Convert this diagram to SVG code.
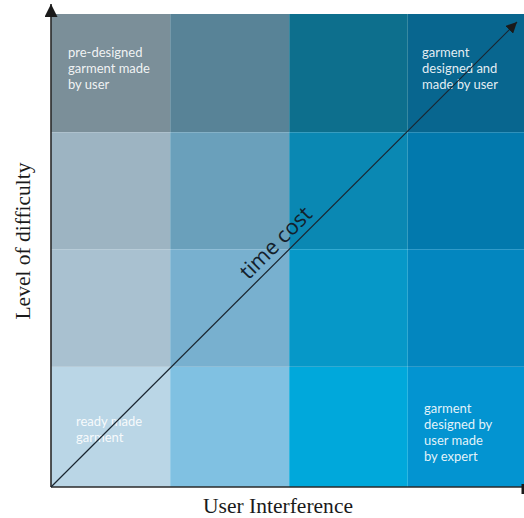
<svg xmlns="http://www.w3.org/2000/svg" width="524" height="518" viewBox="0 0 524 518">
<style>
.cell{stroke:none}
.sep{stroke:#ffffff;stroke-opacity:0.18;stroke-width:1}
.lbl{font-family:Lato,"Open Sans",sans-serif;font-size:13px;fill:#ffffff;fill-opacity:0.9}
.axis{font-family:"Liberation Serif","Times New Roman",serif;font-size:20px;fill:#1a1a1a}
.tc{font-family:"Open Sans","Noto Sans",sans-serif;font-size:21.5px;fill:#13202b}
</style>
<defs>
<marker id="ah" viewBox="0 0 10 10" refX="10" refY="5" markerWidth="11" markerHeight="11" markerUnits="userSpaceOnUse" orient="auto">
<path d="M0,0 L10,5 L0,10 z" fill="#1a1a1a"/>
</marker>
<marker id="ah2" viewBox="0 0 10 10" refX="10" refY="5" markerWidth="13" markerHeight="13" markerUnits="userSpaceOnUse" orient="auto">
<path d="M0,0 L10,5 L0,10 z" fill="#1a1a1a"/>
</marker>
</defs>
<g id="grid">
<rect class="cell" x="51" y="14" width="119" height="118" fill="#7b8f99"/>
<rect class="cell" x="170" y="14" width="119" height="118" fill="#588397"/>
<rect class="cell" x="289" y="14" width="119" height="118" fill="#0d6f8d"/>
<rect class="cell" x="408" y="14" width="116" height="118" fill="#08668f"/>
<rect class="cell" x="51" y="132" width="119" height="117" fill="#9db4c2"/>
<rect class="cell" x="170" y="132" width="119" height="117" fill="#6aa0bb"/>
<rect class="cell" x="289" y="132" width="119" height="117" fill="#0a88b3"/>
<rect class="cell" x="408" y="132" width="116" height="117" fill="#0279ad"/>
<rect class="cell" x="51" y="249" width="119" height="118" fill="#a9c1d0"/>
<rect class="cell" x="170" y="249" width="119" height="118" fill="#78b0cf"/>
<rect class="cell" x="289" y="249" width="119" height="118" fill="#0698c8"/>
<rect class="cell" x="408" y="249" width="116" height="118" fill="#0386bf"/>
<rect class="cell" x="51" y="367" width="119" height="120" fill="#bad6e6"/>
<rect class="cell" x="170" y="367" width="119" height="120" fill="#80c1e2"/>
<rect class="cell" x="289" y="367" width="119" height="120" fill="#00a8db"/>
<rect class="cell" x="408" y="367" width="116" height="120" fill="#0394d1"/>
<line class="sep" x1="170.5" y1="14" x2="170.5" y2="487"/>
<line class="sep" x1="289.5" y1="14" x2="289.5" y2="487"/>
<line class="sep" x1="407.5" y1="14" x2="407.5" y2="487"/>
<line class="sep" x1="51" y1="132.5" x2="524" y2="132.5"/>
<line class="sep" x1="51" y1="249.5" x2="524" y2="249.5"/>
<line class="sep" x1="51" y1="366.5" x2="524" y2="366.5"/>
</g>
<g id="n-predesigned">
<text class="lbl" x="68" y="57">pre-designed</text>
<text class="lbl" x="68" y="73">garment made</text>
<text class="lbl" x="68" y="89">by user</text>
</g>
<g id="n-designed-made">
<text class="lbl" x="422" y="57">garment</text>
<text class="lbl" x="422" y="73">designed and</text>
<text class="lbl" x="422" y="89">made by user</text>
</g>
<g id="n-ready">
<text class="lbl" x="76" y="426">ready made</text>
<text class="lbl" x="76" y="442">garment</text>
</g>
<g id="n-expert">
<text class="lbl" x="424" y="413">garment</text>
<text class="lbl" x="424" y="429">designed by</text>
<text class="lbl" x="424" y="445">user made</text>
<text class="lbl" x="424" y="461">by expert</text>
</g>
<g id="connectors">
<line x1="51" y1="487" x2="51" y2="4" stroke="#2a2a2a" stroke-width="1.6" marker-end="url(#ah2)"/>
<line x1="51" y1="487" x2="524" y2="487" stroke="#2a2a2a" stroke-width="1.6"/>
<rect x="521.5" y="484" width="2.5" height="10" fill="#1a1a1a"/>
<line x1="51" y1="487" x2="517" y2="22" stroke="#1a2631" stroke-width="1.2" marker-end="url(#ah)"/>
<text class="tc" text-anchor="middle" transform="translate(281,248) rotate(-45)">time cost</text>
</g>
<g id="axis-labels">
<text class="axis" text-anchor="middle" textLength="157" lengthAdjust="spacingAndGlyphs" transform="translate(30,241) rotate(-90)">Level of difficulty</text>
<text class="axis" x="278" y="513" text-anchor="middle" textLength="150" lengthAdjust="spacingAndGlyphs">User Interference</text>
</g>
</svg>
